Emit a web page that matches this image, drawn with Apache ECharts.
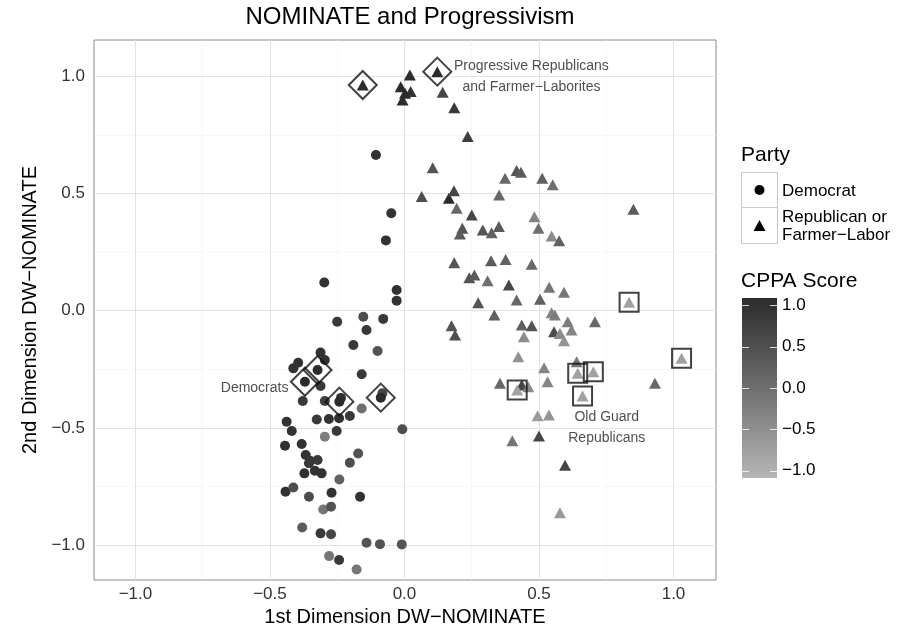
<!DOCTYPE html>
<html><head><meta charset="utf-8">
<script src="https://cdn.jsdelivr.net/npm/echarts@6/dist/echarts.min.js"></script>
<style>html,body{margin:0;padding:0;background:#fff}#c{width:912px;height:639px}</style>
</head><body><div id="c"></div>
<script>
// [x (1st dim), y (2nd dim), CPPA score, highlight: 0 none, 1 diamond, 2 square]
const democrats = [
  [-0.106,0.664,0.9,0],[-0.049,0.416,0.9,0],[-0.069,0.300,0.9,0],[-0.298,0.120,0.9,0],
  [-0.029,0.088,0.9,0],[-0.029,0.043,0.9,0],[-0.250,-0.047,0.8,0],[-0.153,-0.026,0.5,0],
  [-0.079,-0.035,0.8,0],[-0.141,-0.082,0.8,0],[-0.190,-0.146,0.8,0],[-0.100,-0.172,0.4,0],
  [-0.312,-0.178,0.9,0],[-0.296,-0.210,0.9,0],[-0.395,-0.222,0.9,0],[-0.413,-0.246,0.9,0],
  [-0.323,-0.253,1.0,1],[-0.370,-0.303,1.0,1],[-0.159,-0.271,0.8,0],[-0.312,-0.321,0.8,0],
  [-0.378,-0.385,0.8,0],[-0.296,-0.385,0.7,0],[-0.236,-0.372,0.9,0],[-0.242,-0.388,1.0,1],
  [-0.082,-0.352,0.6,0],[-0.088,-0.371,1.0,1],[-0.159,-0.417,0.0,0],[-0.326,-0.464,0.8,0],
  [-0.281,-0.462,0.9,0],[-0.243,-0.459,0.9,0],[-0.203,-0.449,0.8,0],[-0.008,-0.506,0.5,0],
  [-0.438,-0.474,0.9,0],[-0.419,-0.513,0.9,0],[-0.252,-0.513,0.8,0],[-0.296,-0.538,-0.2,0],
  [-0.444,-0.576,0.9,0],[-0.382,-0.569,0.9,0],[-0.367,-0.616,0.9,0],[-0.351,-0.640,0.8,0],
  [-0.323,-0.637,0.8,0],[-0.355,-0.651,0.8,0],[-0.372,-0.694,0.9,0],[-0.333,-0.683,0.9,0],
  [-0.308,-0.694,0.9,0],[-0.172,-0.609,0.4,0],[-0.203,-0.649,0.5,0],[-0.242,-0.720,0.2,0],
  [-0.442,-0.772,0.9,0],[-0.413,-0.754,0.5,0],[-0.355,-0.794,0.5,0],[-0.271,-0.777,0.9,0],
  [-0.165,-0.794,0.9,0],[-0.302,-0.848,-0.1,0],[-0.273,-0.836,0.4,0],[-0.380,-0.925,0.3,0],
  [-0.312,-0.950,0.8,0],[-0.273,-0.954,0.6,0],[-0.141,-0.990,0.4,0],[-0.091,-0.996,0.4,0],
  [-0.010,-0.997,0.4,0],[-0.280,-1.047,-0.1,0],[-0.243,-1.064,0.8,0],[-0.178,-1.104,-0.1,0]
];
const republicans = [
  [0.020,1.006,1.0,0],[-0.014,0.956,1.0,0],[0.023,0.935,0.9,0],[0.002,0.928,1.0,0],
  [-0.007,0.899,1.0,0],[0.122,1.020,1.0,1],[-0.155,0.963,1.0,1],[0.142,0.932,0.6,0],
  [0.185,0.866,0.8,0],[0.235,0.743,0.7,0],[0.105,0.610,0.4,0],[0.374,0.565,0.1,0],
  [0.417,0.598,0.4,0],[0.433,0.591,0.3,0],[0.512,0.565,0.2,0],[0.551,0.537,0.0,0],
  [0.064,0.487,0.5,0],[0.165,0.480,1.0,0],[0.184,0.512,0.6,0],[0.194,0.437,0.1,0],
  [0.352,0.494,0.1,0],[0.250,0.408,0.6,0],[0.483,0.401,-0.3,0],[0.851,0.433,0.3,0],
  [0.498,0.352,0.0,0],[0.215,0.352,0.4,0],[0.206,0.327,0.3,0],[0.291,0.344,0.4,0],
  [0.324,0.333,0.2,0],[0.351,0.359,0.3,0],[0.547,0.319,-0.4,0],[0.575,0.299,0.2,0],
  [0.185,0.205,0.4,0],[0.322,0.213,0.3,0],[0.376,0.219,0.2,0],[0.473,0.198,0.1,0],
  [0.241,0.141,0.4,0],[0.260,0.152,0.3,0],[0.309,0.128,0.0,0],[0.388,0.110,0.6,0],
  [0.538,0.100,-0.1,0],[0.593,0.079,-0.1,0],[0.835,0.036,-0.7,2],[0.274,0.034,0.4,0],
  [0.417,0.046,0.1,0],[0.504,0.049,0.2,0],[0.334,-0.018,0.2,0],[0.547,-0.009,-0.3,0],
  [0.559,-0.018,-0.2,0],[0.175,-0.064,0.4,0],[0.188,-0.104,0.5,0],[0.436,-0.061,0.2,0],
  [0.473,-0.064,0.4,0],[0.607,-0.047,-0.2,0],[0.708,-0.047,0.1,0],[0.444,-0.111,-0.4,0],
  [0.556,-0.090,0.5,0],[0.578,-0.097,-0.4,0],[0.621,-0.082,-0.3,0],[0.593,-0.128,-0.5,0],
  [0.423,-0.196,-0.5,0],[0.519,-0.243,-0.3,0],[0.640,-0.218,-0.1,0],[0.644,-0.267,-0.7,2],
  [0.702,-0.260,-0.7,2],[1.030,-0.203,-0.7,2],[0.931,-0.310,0.1,0],[0.355,-0.310,0.1,0],
  [0.436,-0.317,0.6,0],[0.419,-0.338,-0.7,2],[0.460,-0.324,-0.4,0],[0.532,-0.303,-0.3,0],
  [0.662,-0.364,-0.7,2],[0.495,-0.448,-0.6,0],[0.537,-0.445,-0.5,0],[0.401,-0.555,-0.1,0],
  [0.500,-0.535,0.6,0],[0.597,-0.659,0.6,0],[0.578,-0.862,-0.6,0]
];
const xTicks = [-1, -0.5, 0, 0.5, 1];
const yTicks = [-1, -0.5, 0, 0.5, 1];
const xMinor = [-0.75, -0.25, 0.25, 0.75];
const yMinor = [-0.75, -0.25, 0.25, 0.75];
const xRange = [-1.154, 1.158];
const yRange = [-1.149, 1.155];
const colorTicks = [1, 0.5, 0, -0.5, -1];
const annotations = [
  ['Progressive Republicans\nand Farmer\u2212Laborites', 0.472, 0.997],
  ['Democrats', -0.557, -0.331],
  ['Old Guard\nRepublicans', 0.752, -0.501]
];
const partyNames = ['Democrat', 'Republican or\nFarmer\u2212Labor'];
const titleText = 'NOMINATE and Progressivism';
const xName = '1st Dimension DW\u2212NOMINATE';
const yName = '2nd Dimension DW\u2212NOMINATE';
const colorName = 'CPPA Score';
const partyTitle = 'Party';

const FONT = '"Liberation Sans", Arial, Helvetica, sans-serif';
const GREYS = ['#b6b6b6', '#6f6f6f', '#2b2b2b'];
const fmt = v => (Math.abs(v) < 1e-9 ? 0 : v).toFixed(1).replace('-', '\u2212');

const GRID = {left: 94, top: 40, right: 196, bottom: 59};
const chart = echarts.init(document.getElementById('c'), null, {renderer: 'canvas'});

const majorStyle = {color: '#e3e3e3', width: 1.1, type: 'solid'};
const minorStyle = {color: '#f2f2f2', width: 0.6, type: 'solid'};
const gridLines = [].concat(
  xMinor.map(v => ({xAxis: v, lineStyle: minorStyle})),
  yMinor.map(v => ({yAxis: v, lineStyle: minorStyle})),
  xTicks.map(v => ({xAxis: v, lineStyle: majorStyle})),
  yTicks.map(v => ({yAxis: v, lineStyle: majorStyle}))
);

const toPt = r => [r[0], r[1], r[2]];
const hiDiamond = democrats.concat(republicans).filter(r => r[3] === 1).map(r => [r[0], r[1]]);
const hiSquare = democrats.concat(republicans).filter(r => r[3] === 2).map(r => [r[0], r[1]]);

// Legend geometry
const LX = 741, bx = 741, bw = 36;
const barTop = 298, barBot = 478, barW = 35;
const tickY = v => 388 - v * 82.6;
const graphics = [
  {type: 'text', left: LX, top: 145, style: {text: partyTitle, font: '21px ' + FONT, fill: '#000'}},
  {type: 'rect', shape: {x: bx + 0.5, y: 172.5, width: bw, height: 35}, style: {fill: '#fff', stroke: '#c9c9c9', lineWidth: 1}},
  {type: 'rect', shape: {x: bx + 0.5, y: 207.5, width: bw, height: 36}, style: {fill: '#fff', stroke: '#c9c9c9', lineWidth: 1}},
  {type: 'circle', shape: {cx: bx + 18.5, cy: 190, r: 5}, style: {fill: '#000'}},
  {type: 'polygon', shape: {points: [[bx + 18.5, 220], [bx + 24.5, 231], [bx + 12.5, 231]]}, style: {fill: '#000'}},
  {type: 'text', x: 782, y: 191, style: {text: partyNames[0], font: '17px ' + FONT, fill: '#000', verticalAlign: 'middle'}},
  {type: 'text', x: 782, y: 226, style: {text: partyNames[1], font: '17px ' + FONT, fill: '#000', verticalAlign: 'middle', lineHeight: 18}},
  {type: 'text', left: LX, top: 271, style: {text: colorName, font: '21px ' + FONT, fill: '#000'}},
  {type: 'rect', shape: {x: bx + 1, y: barTop, width: barW, height: barBot - barTop},
    style: {fill: {type: 'linear', x: 0, y: 0, x2: 0, y2: 1, colorStops: [
      {offset: 0, color: GREYS[2]}, {offset: 0.5, color: GREYS[1]}, {offset: 1, color: GREYS[0]}]}}}
];
colorTicks.forEach(v => {
  const y = Math.round(tickY(v)) + 0.5;
  graphics.push({type: 'line', shape: {x1: bx + 1, y1: y, x2: bx + 8, y2: y}, style: {stroke: '#fff', lineWidth: 1, opacity: 0.8}});
  graphics.push({type: 'line', shape: {x1: bx + barW - 6, y1: y, x2: bx + barW + 1, y2: y}, style: {stroke: '#fff', lineWidth: 1, opacity: 0.8}});
  graphics.push({type: 'text', x: 782, y: tickY(v), style: {text: fmt(v), font: '17px ' + FONT, fill: '#000', verticalAlign: 'middle'}});
});

const axisCommon = {
  axisLine: {show: false},
  axisTick: {show: true, length: 5, lineStyle: {color: '#333', width: 1}},
  splitLine: {show: false},
  nameTextStyle: {fontFamily: FONT, fontSize: 20, color: '#000'},
  axisLabel: {fontFamily: FONT, fontSize: 17, color: '#333', formatter: fmt}
};

chart.setOption({
  animation: false,
  backgroundColor: '#fff',
  title: {text: titleText, left: 405, textAlign: 'center', top: 0,
    textStyle: {fontFamily: FONT, fontSize: 24, fontWeight: 'normal', color: '#000'}},
  grid: Object.assign({show: true, borderColor: '#8a8a8a', borderWidth: 1, backgroundColor: '#fff'}, GRID),
  xAxis: Object.assign({}, axisCommon, {
    type: 'value', min: xRange[0], max: xRange[1],
    name: xName, nameLocation: 'middle', nameGap: 24,
    axisTick: Object.assign({}, axisCommon.axisTick, {customValues: xTicks}),
    axisLabel: Object.assign({}, axisCommon.axisLabel, {customValues: xTicks, margin: 6})
  }),
  yAxis: Object.assign({}, axisCommon, {
    type: 'value', min: yRange[0], max: yRange[1],
    name: yName, nameLocation: 'middle', nameGap: 54, nameRotate: 90,
    axisTick: Object.assign({}, axisCommon.axisTick, {customValues: yTicks}),
    axisLabel: Object.assign({}, axisCommon.axisLabel, {customValues: yTicks, margin: 9})
  }),
  visualMap: {
    type: 'continuous', show: false, min: -1, max: 1, dimension: 2, seriesIndex: [1, 2],
    inRange: {color: GREYS}
  },
  graphic: graphics,
  series: [
    {type: 'scatter', data: [], silent: true,
      markLine: {silent: true, z: 1, symbol: ['none', 'none'], label: {show: false}, animation: false, data: gridLines}},
    {type: 'scatter', name: partyNames[0], symbol: 'circle', symbolSize: 10, z: 3,
      data: democrats.map(toPt), itemStyle: {opacity: 1}},
    {type: 'scatter', name: partyNames[1], symbol: 'triangle', symbolSize: [12, 11], z: 3,
      data: republicans.map(toPt), itemStyle: {opacity: 1}},
    {type: 'scatter', symbol: 'diamond', symbolSize: 28, z: 4, silent: true, data: hiDiamond,
      itemStyle: {color: 'rgba(0,0,0,0)', borderColor: '#111', borderWidth: 2}},
    {type: 'scatter', symbol: 'rect', symbolSize: 19, z: 4, silent: true, data: hiSquare,
      itemStyle: {color: 'rgba(0,0,0,0)', borderColor: '#111', borderWidth: 2}},
    {type: 'scatter', symbolSize: 0, z: 5, silent: true,
      data: annotations.map(a => ({name: a[0], value: [a[1], a[2]]})),
      label: {show: true, position: 'inside', formatter: p => p.name, fontFamily: FONT, fontSize: 14,
        color: '#222', align: 'center', verticalAlign: 'middle', lineHeight: 21}}
  ]
});
</script></body></html>
